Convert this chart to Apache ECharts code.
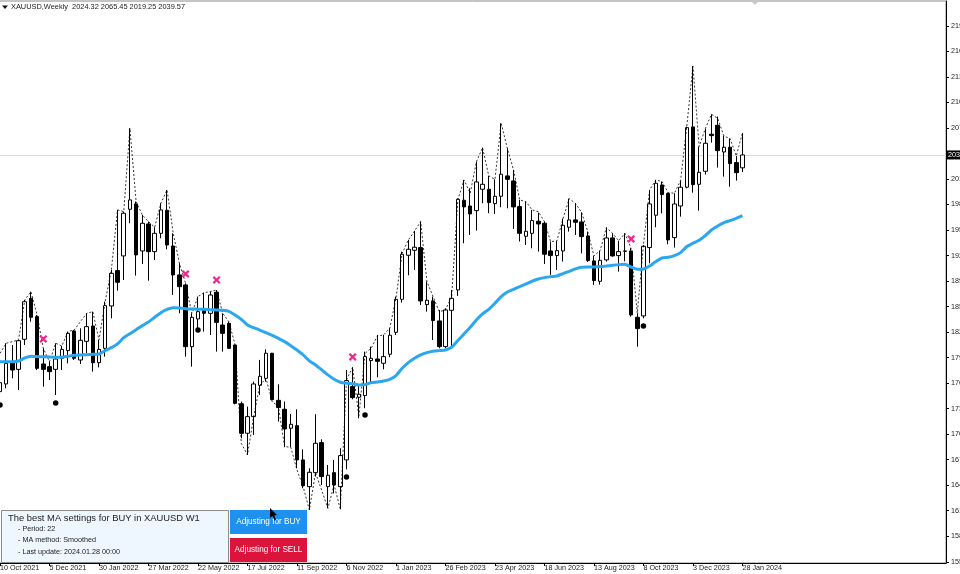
<!DOCTYPE html>
<html><head><meta charset="utf-8">
<style>html,body{margin:0;padding:0;background:#fff;overflow:hidden}#c{width:960px;height:574px}</style>
<script src="https://cdn.jsdelivr.net/npm/echarts@6/dist/echarts.min.js"></script>
</head><body><div id="c"></div>
<script>
const opens=[1759.1,1768.2,1793.4,1785.5,1821.1,1869.7,1847.9,1791.9,1788.7,1785.5,1798.6,1807.7,1831,1796.6,1818.7,1836.9,1793.4,1810.4,1860.6,1902.5,1919.9,1975.2,1981.5,1925.8,1957.8,1925,1946.7,1974,1931.7,1897.4,1885.5,1812.4,1845.2,1855,1851.9,1876.8,1838.1,1840,1814.4,1744.7,1709.8,1729.5,1766.6,1774.9,1804.6,1748.8,1738.2,1715.7,1718.8,1678.2,1646.5,1663.1,1698.7,1646.5,1663.1,1646.5,1678.2,1765.05,1752.4,1754.4,1795.9,1797.8,1792.7,1803.4,1829.4,1868.5,1920.7,1926.6,1929.8,1862.2,1866.6,1842.9,1812.4,1855.5,1879.6,1985.9,1979.1,1973.6,1998.9,1998.9,1981.9,1990.6,2014.7,2008.8,1978.4,1943.2,1946.7,1961,1958.6,1925.8,1920.3,1925.8,1953.9,1962.6,1960.2,1943.6,1914,1889.9,1915.2,1941.2,1920.3,1925.8,1925.8,1847.2,1848.8,1929.8,1968.1,2004,1993.8,1941.6,1979.1,2001.3,2072.8,2004.8,2020.2,2064.1,2074.7,2043.1,2048.7,2030.5,2024.32];
const closes=[1769.7,1792.6,1784.7,1819.5,1865.7,1847.2,1786.7,1785.5,1782.8,1797.8,1809.2,1828.2,1798.6,1819.9,1836.1,1793.4,1809.2,1861,1899.3,1888.7,1970.5,1986.3,1921.1,1958.6,1925,1946.7,1974.4,1932.9,1897.4,1883.5,1812.4,1847.2,1853.9,1851.9,1873.6,1841.2,1828.2,1810.4,1745.2,1709.7,1729.5,1768.2,1777.3,1804.6,1749.6,1740.2,1714.9,1720.4,1678.2,1647.7,1663.5,1697.9,1658.4,1660,1648.5,1683.3,1772.2,1752,1756,1800.6,1798.6,1795,1800.6,1825.9,1868.5,1921.9,1927.8,1930.2,1866.6,1867.4,1843.3,1812.4,1855.9,1869.7,1987,1978,1969.7,2007.6,2004.8,1983.1,1990.6,2016.7,2010.7,1978,1946.7,1949.1,1961.8,1957.8,1921.9,1920.3,1926.2,1956.2,1962.6,1959.8,1942.8,1914.4,1890.7,1914.7,1941.2,1919.9,1925,1925.4,1850,1833.8,1931.3,1981.5,2006,1992.6,1938.9,1981.5,2001.3,2072,2004.4,2019,2053.4,2062.5,2044.7,2048.7,2029.3,2018.6,2039.57];
const lows=[1745.2,1763,1774.9,1761,1814.4,1842,1784.7,1765,1772.9,1755.1,1784.7,1792.6,1796.6,1791.9,1804.5,1782.8,1787.9,1800.5,1846,1878.8,1891.4,1958.6,1896.6,1910.4,1890.6,1915.1,1940.8,1927.8,1873.7,1852,1800.5,1788.7,1834.1,1830.2,1826.2,1806.5,1806.5,1809.6,1744,1703.8,1684.1,1707.8,1755.2,1771,1749,1723.6,1693.2,1693.2,1668.3,1644.6,1618.9,1658.4,1648.5,1620.9,1638.6,1619.7,1667.1,1750,1727.5,1739.4,1769,1776.1,1785.6,1799.8,1826.3,1864.6,1897,1903.3,1861.8,1853.9,1820.3,1810.5,1810.5,1812.4,1872.5,1934.9,1944.8,1949.9,1982.3,1970.5,1969.7,1977.6,1976.4,1951.9,1936.9,1932.9,1929,1925,1910.4,1897.4,1903.3,1913.2,1948.7,1944.8,1923,1912.8,1885.5,1885.9,1913.2,1919.1,1901.3,1913.6,1848,1812.4,1846,1911.2,1953.9,1970.5,1933.7,1929.8,1966.5,2000,1994.9,1973.6,2016.3,2054.2,2024.6,2013.9,2002,2009.2,2019.25];
const highs=[1804.5,1816.4,1814.4,1820.3,1867.7,1877.6,1849.9,1810.4,1794.6,1816.4,1813.2,1830.2,1832.2,1834.1,1851.9,1853.9,1820.3,1865.7,1903.3,1974.4,1972.4,2071.2,1984.3,1968.5,1960.6,1953.9,1982.3,1998.1,1946.7,1911.2,1887.4,1851.9,1871.7,1876.4,1877.6,1879.5,1851.9,1842,1814.4,1747.3,1741.4,1771,1796.7,1809.3,1805,1767.8,1747.3,1732.7,1738.2,1690.8,1668.3,1732.3,1702.6,1672.2,1678.2,1692,1784.8,1788,1767,1806.5,1812.4,1826.3,1826.3,1834.2,1871.7,1925,1938.8,1949.5,1960.6,1889.5,1871.7,1855.9,1857.9,1879.6,1988.2,2009.95,2000,2031.7,2048.3,2014.7,2010.7,2077.1,2047.5,2021.8,1986.3,1984.3,1974.4,1971.2,1960.6,1936.9,1937.6,1964.1,1987.8,1982.3,1971.6,1948.7,1919.9,1926.2,1953.5,1946.7,1938,1946.7,1929,1852,1932.9,1998.1,2010,2008,1995,1994.2,2009.2,2073.2,2145,2049.5,2070.8,2087.8,2085,2062.1,2058.9,2038.4,2065.45];
const smoothedMA=[1794.6,1794.6,1794.6,1795.4,1799,1800.9,1800.6,1800.5,1800.2,1799.8,1799.8,1801,1802.1,1802.5,1802.9,1803.3,1803.7,1807.7,1811.2,1815.6,1823,1827.8,1832.5,1837.3,1841.6,1847.2,1852.7,1856.6,1858.6,1858.2,1857.4,1857,1856.8,1856.6,1856.2,1855.9,1855.5,1854.3,1849.9,1844.8,1838.1,1834.9,1832.1,1829,1825.8,1822.3,1818.4,1813.6,1808.4,1802.6,1795.5,1790.7,1784.8,1778.9,1773.7,1770.2,1769,1768.6,1767,1767.4,1769.8,1770.6,1771.8,1773.7,1778.1,1786.8,1793.5,1798.6,1802.6,1805.3,1806.9,1807.7,1808.5,1811.7,1819.6,1827.5,1835.4,1844,1851.2,1856.7,1863.8,1871.7,1877.2,1880.4,1883.5,1886.7,1889.9,1892.6,1894.2,1895.4,1896.2,1899,1901.7,1904.5,1906.5,1906.9,1906.9,1907.3,1908,1908.8,1909.6,1910,1906.7,1904.1,1904.5,1908,1913.2,1917.5,1918.3,1920.3,1923.8,1931,1934.9,1938.5,1944,1950.7,1955.4,1959.4,1961.8,1964.5,1967.7];
const zigIndex=[0,1,3,4,5,6,7,8,9,10,11,12,14,15,16,17,18,19,20,21,22,23,24,25,26,27,28,29,30,31,32,33,34,35,36,37,38,39,40,41,42,43,44,45,46,47,48,49,50,51,53,54,55,56,57,58,59,60,61,62,63,64,65,66,67,68,69,70,71,72,73,74,75,76,77,78,79,80,81,82,83,84,85,86,87,88,89,90,91,92,93,94,95,96,97,98,99,100,101,102,103,104,105,106,107,108,109,110,111,112,113,114,115,116,117,118,119,120];
const zigPrice=[1804.5,1816.4,1820.3,1867.7,1877.6,1849.9,1810.4,1794.6,1816.4,1813.2,1830.2,1832.2,1851.9,1853.9,1820.3,1865.7,1903.3,1974.4,1972.4,2071.2,1984.3,1968.5,1960.6,1953.9,1982.3,1998.1,1946.7,1911.2,1887.4,1851.9,1871.7,1876.4,1877.6,1879.5,1851.9,1842,1814.4,1697.8,1684.1,1729.5,1766.6,1774.9,1747.2,1741.3,1693.9,1693.2,1666.3,1646.5,1618.9,1663.1,1620.9,1648.5,1619.7,1772.95,1788,1729.5,1804.5,1810.5,1825.1,1826.3,1834.2,1869.7,1923,1938.8,1949.5,1960.6,1889.5,1871.7,1853.9,1855.9,1871.7,1986.3,2009.95,1994.2,2031.7,2048.3,2014.7,2010.7,2077.1,2047.5,2021.8,1986.3,1984.3,1974.4,1972.4,1960.6,1936.9,1937.6,1964.1,1987.8,1982.3,1971.6,1948.7,1919.9,1926.2,1953.5,1946.7,1938,1946.7,1929,1852,1932.9,1998.1,2010,2008,1995,1994.2,2009.2,2073.2,2145,2049.5,2070.8,2087.8,2083,2062.1,2058.9,2038.4,2065.45];
const sellIndex=[7,30,35,57,102];
const sellPrice=[1821.5,1898.6,1891.4,1800.2,1940];
const buyIndex=[0,9,32,56,59,104];
const buyPrice=[1743.3,1745.7,1832.2,1658,1731.5,1836.9];
const dateLabels=['10 Oct 2021','5 Dec 2021','30 Jan 2022','27 Mar 2022','22 May 2022','17 Jul 2022','11 Sep 2022','6 Nov 2022','1 Jan 2023','26 Feb 2023','23 Apr 2023','18 Jun 2023','13 Aug 2023','8 Oct 2023','3 Dec 2023','28 Jan 2024'];
const dateTickIndex=[0,8,16,24,32,40,48,56,64,72,80,88,96,104,112,120];
const priceTicks=[1557.5,1587.74,1617.98,1648.22,1678.46,1708.7,1738.94,1769.18,1799.42,1829.66,1859.9,1890.14,1920.38,1950.62,1980.86,2011.1,2071.58,2101.82,2132.06,2162.3,2192.54];
const lastPrice=2039.57;
const font='"Liberation Sans", Arial, sans-serif';
const chart=echarts.init(document.getElementById('c'),null,{renderer:'canvas'});
chart.setOption({
 animation:false,backgroundColor:'#fff',
 grid:{left:-3.1,right:14,top:1,bottom:11,outerBoundsMode:'none',show:true,borderColor:'#8a8a8a',borderWidth:1,backgroundColor:'transparent'},
 xAxis:{type:'value',min:-0.5,max:152.9,splitLine:{show:false},
  axisLine:{onZero:false,lineStyle:{color:'#000',width:1}},
  axisTick:{length:3,lineStyle:{color:'#000'},customValues:dateTickIndex},
  axisLabel:{customValues:dateTickIndex,align:'left',margin:2,fontSize:7.2,color:'#222',fontFamily:font,hideOverlap:false,
   formatter:v=>dateLabels[dateTickIndex.indexOf(v)]}},
 yAxis:{type:'value',position:'right',min:1556.03,max:2222,splitLine:{show:false},
  axisLine:{show:true,onZero:false,lineStyle:{color:'#000',width:1}},
  axisTick:{length:3,lineStyle:{color:'#000'},customValues:priceTicks},
  axisLabel:{customValues:priceTicks,margin:5,fontSize:7.2,color:'#222',fontFamily:font,hideOverlap:false,formatter:v=>v.toFixed(2)}},
 series:[
  {type:'candlestick',name:'XAUUSD',barWidth:4,z:3,
   data:opens.map((o,i)=>[i,o,closes[i],lows[i],highs[i]]),
   itemStyle:{color:'#fff',color0:'#000',borderColor:'#000',borderColor0:'#000',borderWidth:1},
   markLine:{silent:true,symbol:'none',animation:false,z:1,
    data:[{yAxis:lastPrice}],
    lineStyle:{type:'solid',color:'#dcdcdc',width:1},
    label:{show:true,position:'end',distance:1,formatter:lastPrice.toFixed(2),color:'#fff',backgroundColor:'#000',fontSize:7.2,fontFamily:font,padding:[1,1,1,1]}}},
  {type:'line',name:'Path',z:4,symbol:'none',silent:true,data:zigIndex.map((x,i)=>[x,zigPrice[i]]),
   lineStyle:{color:'#000',width:0.8,type:[2,2]}},
  {type:'line',name:'Smoothed MA 22',z:5,symbol:'none',smooth:0.2,silent:true,data:smoothedMA.map((v,i)=>[i,v]),
   lineStyle:{color:'#2aa7ee',width:3}},
  {type:'scatter',name:'Sell',z:6,silent:true,data:sellIndex.map((x,i)=>[x,sellPrice[i]]),symbolSize:8,
   symbol:'path://M2 0 L5 3 L8 0 L10 2 L7 5 L10 8 L8 10 L5 7 L2 10 L0 8 L3 5 L0 2 Z',itemStyle:{color:'#f0288c',opacity:1}},
  {type:'scatter',name:'Buy',z:6,silent:true,data:buyIndex.map((x,i)=>[x,buyPrice[i]]),symbolSize:5.5,symbol:'circle',itemStyle:{color:'#000',opacity:1}}
 ],
 graphic:[
  {type:'polygon',shape:{points:[[2,5.5],[8,5.5],[5,9]]},style:{fill:'#111'},z:50},
  {type:'text',style:{x:11,y:7,text:'XAUUSD,Weekly  2024.32 2065.45 2019.25 2039.57',fill:'#222',font:'7.4px '+font,verticalAlign:'middle'},z:50},
  {type:'polygon',shape:{points:[[751,1],[759,1],[755,5]]},style:{fill:'#c8c8c8'},z:50},
  {type:'rect',shape:{x:1.5,y:510.5,width:227,height:52},style:{fill:'#eef6ff',stroke:'#8c8c8c',lineWidth:1},z:50},
  {type:'text',style:{x:8,y:518,text:'The best MA settings for BUY in XAUUSD W1',fill:'#222',font:'9.4px '+font,verticalAlign:'middle'},z:51},
  {type:'text',style:{x:18,y:529,text:'- Period: 22',fill:'#222',font:'7.2px '+font,verticalAlign:'middle'},z:51},
  {type:'text',style:{x:18,y:540.5,text:'- MA method: Smoothed',fill:'#222',font:'7.2px '+font,verticalAlign:'middle'},z:51},
  {type:'text',style:{x:18,y:552,text:'- Last update: 2024.01.28 00:00',fill:'#222',font:'7.2px '+font,verticalAlign:'middle'},z:51},
  {type:'rect',shape:{x:230,y:510,width:77,height:24},style:{fill:'#1e90f0'},z:50},
  {type:'text',style:{x:268.5,y:522,text:'Adjusting for BUY',fill:'#fff',font:'8.2px '+font,align:'center',verticalAlign:'middle'},z:51},
  {type:'rect',shape:{x:230,y:538,width:77,height:24},style:{fill:'#dc143c'},z:50},
  {type:'text',style:{x:268.5,y:550,text:'Adjusting for SELL',fill:'#fff',font:'8.2px '+font,align:'center',verticalAlign:'middle'},z:51},
  {type:'polygon',shape:{points:[[270,508],[270,518],[272.5,516],[274.5,520.5],[276,520],[274.3,515.5],[277,515]]},style:{fill:'#000'},z:52}
 ]
});
</script></body></html>
